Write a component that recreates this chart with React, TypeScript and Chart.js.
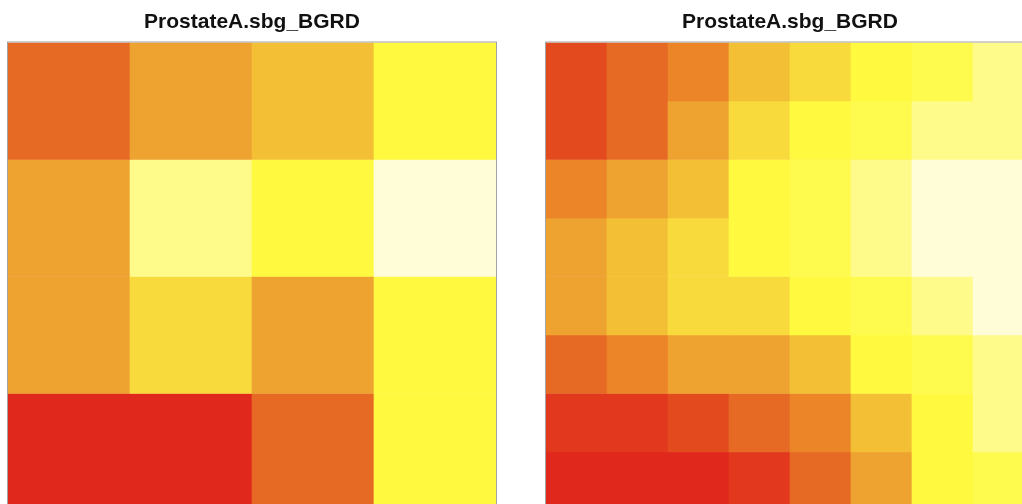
import React, { useEffect, useRef } from 'react';
import { Chart, registerables } from 'chart.js';

Chart.register(...registerables);

const TITLE = 'ProstateA.sbg_BGRD';

// colour scale (12 levels, heat colours)
const palette = [
  '#E0281C', '#E1381E', '#E34B1E', '#E66924', '#EB8527', '#EEA230',
  '#F3BF35', '#F9DA3C', '#FFF93F', '#FFFA4E', '#FFFB8A', '#FFFDD8',
];

const leftCols = ['1', '2', '3', '4'];
const leftValues = [
  [3, 5, 6, 8],
  [5, 10, 8, 11],
  [5, 7, 5, 8],
  [0, 0, 3, 8],
];

const rightCols = ['1', '2', '3', '4', '5', '6', '7', '8'];
const rightValues = [
  [2, 3, 4, 6, 7, 8, 9, 10],
  [2, 3, 5, 7, 8, 9, 10, 10],
  [4, 5, 6, 8, 9, 10, 11, 11],
  [5, 6, 7, 8, 9, 10, 11, 11],
  [5, 6, 7, 7, 8, 9, 10, 11],
  [3, 4, 5, 5, 6, 8, 9, 10],
  [1, 1, 2, 3, 4, 6, 8, 10],
  [0, 0, 0, 1, 3, 5, 8, 9],
];

const borderPlugin = {
  id: 'frameBorder',
  afterDraw(chart: any) {
    const { ctx, chartArea: a } = chart;
    ctx.save();
    ctx.strokeStyle = '#a3a3a3';
    ctx.lineWidth = 1;
    ctx.strokeRect(a.left - 0.5, a.top - 0.5, a.right - a.left + 1, a.bottom - a.top + 1);
    ctx.restore();
  },
};

function Heat(props: {
  cols: string[];
  values: number[][];
  left: number;
  width: number;
  height: number;
  padLeft: number;
  padRight: number;
  padBottom: number;
}) {
  const ref = useRef<HTMLCanvasElement>(null);
  useEffect(() => {
    if (!ref.current) return;
    const { cols, values } = props;
    const datasets = values.map((row, r) => ({
      data: row.map(() => [r, r + 1]),
      backgroundColor: row.map((v) => palette[v]),
      borderWidth: 0,
      grouped: false,
      barPercentage: 1,
      categoryPercentage: 1,
    }));
    const chart = new Chart(ref.current, {
      type: 'bar',
      data: { labels: cols, datasets: datasets as any },
      options: {
        animation: false,
        responsive: false,
        devicePixelRatio: 1,
        layout: {
          padding: { left: props.padLeft, right: props.padRight, top: 0, bottom: props.padBottom },
        },
        plugins: {
          legend: { display: false },
          tooltip: { enabled: false },
          title: {
            display: true,
            text: TITLE,
            color: '#111',
            font: { family: '"Liberation Sans", Arial, Helvetica, sans-serif', size: 21, weight: 'bold', lineHeight: 1.2 },
            padding: { top: 10, bottom: 7.3 },
          },
        },
        scales: {
          x: { type: 'category', display: false, offset: true },
          y: { type: 'linear', display: false, min: 0, max: values.length, reverse: true },
        },
      } as any,
      plugins: [borderPlugin],
    });
    return () => chart.destroy();
  }, []);
  return (
    <canvas
      ref={ref}
      width={props.width}
      height={props.height}
      style={{ position: 'absolute', left: props.left, top: 0, width: props.width, height: props.height }}
    />
  );
}

export default function App() {
  return (
    <div
      style={{
        position: 'fixed',
        left: 0,
        top: 0,
        width: 1022,
        height: 504,
        overflow: 'hidden',
        background: '#ffffff',
      }}
    >
      <Heat cols={leftCols} values={leftValues} left={0} width={520} height={520} padLeft={8} padRight={24} padBottom={9.5} />
      <Heat cols={rightCols} values={rightValues} left={520} width={530} height={520} padLeft={26} padRight={16} padBottom={9.5} />
    </div>
  );
}
